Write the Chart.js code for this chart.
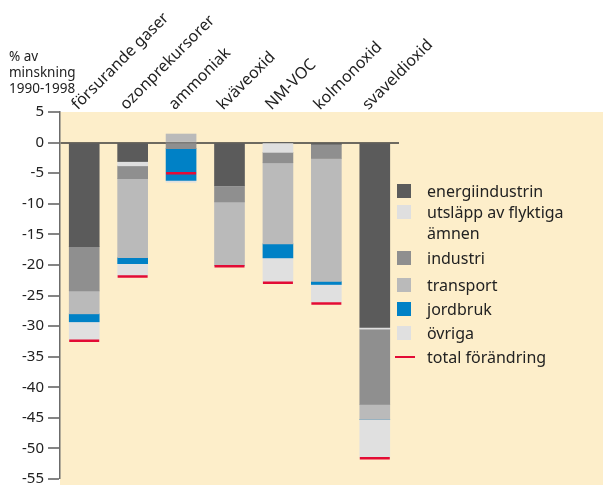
<!DOCTYPE html>
<html>
<head>
<meta charset="utf-8">
<script src="https://cdn.jsdelivr.net/npm/chart.js@4/dist/chart.umd.min.js"></script>
<style>
  html, body { margin: 0; padding: 0; background: #fff; }
  #wrap { position: relative; width: 603px; height: 485px; }
  #title { position: absolute; left: 9px; top: 48px; font: 13.5px "Noto Sans", sans-serif; line-height: 16px; color: #222; }
  #legend { position: absolute; left: 395px; top: 180.5px; font: 16px "Noto Sans", sans-serif; color: #222; }
  .row { position: relative; padding-left: 32px; line-height: 21px; }
  .row:nth-child(1) { margin-bottom: 0; }
  .row:nth-child(2) { margin-bottom: 4px; }
  .row:nth-child(3) { margin-bottom: 6px; }
  .row:nth-child(n+4) { margin-bottom: 3px; }
  .sw { position: absolute; left: 2px; top: 3.5px; width: 14px; height: 14px; }
  .ln { position: absolute; left: 0; top: 9.5px; width: 20px; height: 2px; }
</style>
</head>
<body>
<div id="wrap">
  <canvas id="c" width="603" height="485"></canvas>
  <div id="title">% av<br>minskning<br>1990-1998</div>
  <div id="legend"></div>
</div>
<script>
const categories = ['försurande gaser','ozonprekursorer','ammoniak','kväveoxid','NM-VOC','kolmonoxid','svaveldioxid'];
const energiindustrin = [-17.0, -3.1, 0, -7.1, 0, -0.3, -30.2];
const utslapp        = [0, -0.7, 0, 0, -1.6, 0, -0.3];
const industri       = [-7.25, -2.1, -1.0, -2.6, -1.7, -2.3, -12.3];
const transport      = [-3.75, -12.9, 1.4, -10.4, -13.25, -20.1, -2.45];
const jordbruk       = [-1.3, -1.0, -5.2, 0, -2.3, -0.5, 0];
const ovriga         = [-2.95, -2.0, -0.3, -0.1, -4.0, -2.9, -6.2];
const totalChange    = [-32.4, -21.9, -5.0, -20.2, -22.9, -26.3, -51.6];
const yTicks = [5, 0, -5, -10, -15, -20, -25, -30, -35, -40, -45, -50, -55];

const seriesNames = ['energiindustrin', 'utsläpp av flyktiga ämnen', 'industri', 'transport', 'jordbruk', 'övriga', 'total förändring'];
const seriesColors = ['#5b5b5b', '#dfdfdf', '#8f8f8f', '#bababa', '#0081c6', '#e0e0e0', '#e30b35'];
const seriesData = [energiindustrin, utslapp, industri, transport, jordbruk, ovriga];

const datasets = seriesData.map((d, i) => ({
  type: 'bar', label: seriesNames[i], data: d, backgroundColor: seriesColors[i],
  borderWidth: 0, barThickness: 30, stack: 'a', order: 1
}));
datasets.push({
  type: 'line', label: seriesNames[6], data: totalChange, stack: 'total', order: 0,
  showLine: false, pointStyle: 'line', pointRadius: 15, pointHoverRadius: 15,
  borderColor: seriesColors[6], pointBorderColor: seriesColors[6], pointBorderWidth: 2.5, borderWidth: 2.5
});

const bgPlugin = {
  id: 'bg',
  beforeDraw(chart) {
    const { ctx, chartArea } = chart;
    ctx.save();
    ctx.fillStyle = '#fdeeca';
    ctx.fillRect(chartArea.left, chartArea.top, chart.width - chartArea.left, chart.height - chartArea.top);
    ctx.restore();
  }
};

new Chart(document.getElementById('c'), {
  data: { labels: categories, datasets },
  plugins: [bgPlugin],
  options: {
    responsive: false, animation: false, devicePixelRatio: 1,
    layout: { autoPadding: false, padding: { left: 0, top: 0, right: 204, bottom: 6 } },
    plugins: { legend: { display: false }, tooltip: { enabled: false } },
    scales: {
      x: {
        position: 'top', stacked: true, offset: true,
        border: { display: false },
        grid: { display: false, drawTicks: false },
        ticks: { autoSkip: false, minRotation: 45, maxRotation: 45, padding: -2, labelOffset: 4,
                 color: '#222', font: { family: 'Noto Sans', size: 16 } },
        afterFit(s) { s.height = 112; s.paddingLeft = 0; s.paddingRight = 0; }
      },
      y: {
        stacked: true, min: -55, max: 5, z: 1,
        border: { display: true, color: '#6b6b6b', width: 1.5 },
        grid: {
          drawOnChartArea: true, drawTicks: true, tickLength: 12,
          color: c => (c.tick && c.tick.value === 0) ? '#6e6a60' : 'rgba(0,0,0,0)',
          lineWidth: c => (c.tick && c.tick.value === 0) ? 2 : 0,
          tickColor: '#333', tickWidth: 1.2
        },
        afterBuildTicks(s) { s.ticks = yTicks.map(v => ({ value: v })); },
        ticks: { padding: 4, color: '#222', font: { family: 'Noto Sans', size: 15 } },
        afterFit(s) { s.width = 60; s.paddingTop = 0; s.paddingBottom = 0; }
      }
    }
  }
});

const leg = document.getElementById('legend');
seriesNames.forEach((n, i) => {
  const row = document.createElement('div');
  row.className = 'row';
  const mark = document.createElement('span');
  mark.className = i === 6 ? 'ln' : 'sw';
  mark.style.background = seriesColors[i];
  row.appendChild(mark);
  const txt = document.createElement('span');
  txt.innerHTML = i === 1 ? 'utsläpp av flyktiga<br>ämnen' : n;
  row.appendChild(txt);
  leg.appendChild(row);
});
</script>
</body>
</html>
